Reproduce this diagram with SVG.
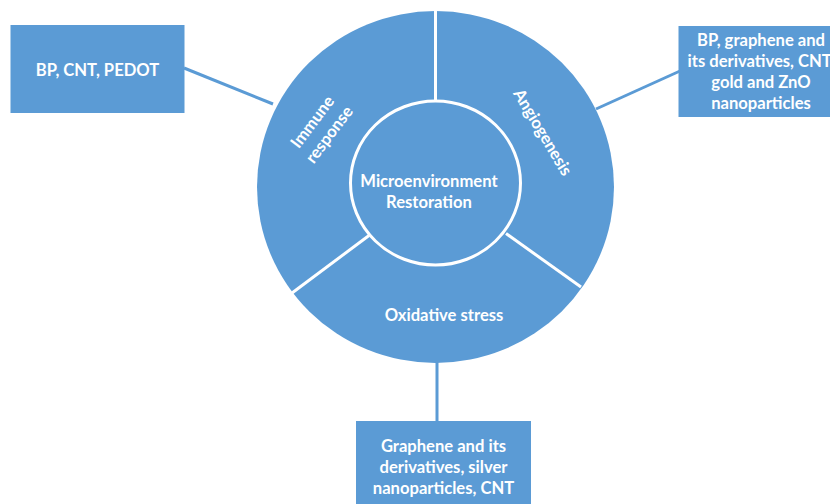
<svg xmlns="http://www.w3.org/2000/svg" width="830" height="504" viewBox="0 0 830 504">
<style>
.box{fill:#5B9BD5;}
.conn{stroke:#5B9BD5;stroke-width:3;fill:none;}
.div{stroke:#FFFFFF;stroke-width:3;fill:none;}
.t{font-family:Lato,"Open Sans","Liberation Sans",sans-serif;font-weight:bold;font-size:16.6px;fill:#FFFFFF;text-anchor:middle;}
</style>
<rect width="830" height="504" fill="#FFFFFF"/>
<g id="connectors">
<line class="conn" x1="184" y1="68" x2="273" y2="104"/>
<line class="conn" x1="596" y1="109" x2="680" y2="71"/>
<line class="conn" x1="437" y1="360" x2="437" y2="422"/>
</g>
<g id="wheel">
<ellipse cx="435.5" cy="187" rx="178.5" ry="176" fill="#5B9BD5"/>
<line class="div" x1="435.5" y1="8" x2="435.5" y2="101"/>
<line class="div" x1="369" y1="235.5" x2="292" y2="293"/>
<line class="div" x1="506" y1="233.5" x2="581" y2="287"/>
<ellipse cx="435.5" cy="183" rx="85" ry="82" fill="#5B9BD5" stroke="#FFFFFF" stroke-width="3"/>
</g>
<g id="center">
<text class="t" x="429" y="187">Microenvironment</text>
<text class="t" x="429" y="208">Restoration</text>
</g>
<g id="immune">
<g transform="translate(320.5,128) rotate(-53)">
<text class="t" x="0" y="-4.5">Immune</text>
<text class="t" x="0" y="16.5">response</text>
</g>
</g>
<g id="angiogenesis">
<text class="t" transform="translate(543,132) rotate(59)" x="0" y="6">Angiogenesis</text>
</g>
<g id="oxidative">
<text class="t" x="444" y="321">Oxidative stress</text>
</g>
<g id="box-left">
<rect class="box" x="10.5" y="25" width="174" height="88"/>
<text class="t" x="97.5" y="76">BP, CNT, PEDOT</text>
</g>
<g id="box-right">
<rect class="box" x="678.5" y="26" width="165" height="91"/>
<text class="t" x="761" y="46">BP, graphene and</text>
<text class="t" x="761" y="67">its derivatives, CNT,</text>
<text class="t" x="761" y="88">gold and ZnO</text>
<text class="t" x="761" y="109">nanoparticles</text>
</g>
<g id="box-bottom">
<rect class="box" x="356" y="421" width="175" height="90"/>
<text class="t" x="443.5" y="452">Graphene and its</text>
<text class="t" x="443.5" y="473">derivatives, silver</text>
<text class="t" x="443.5" y="494">nanoparticles, CNT</text>
</g>
</svg>
